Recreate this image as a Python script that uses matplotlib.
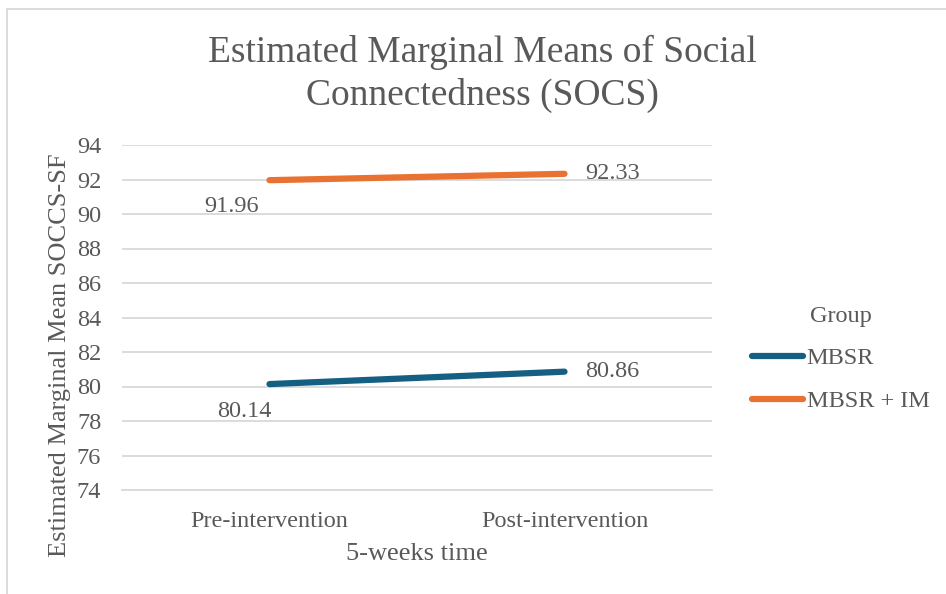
import matplotlib
matplotlib.use("Agg")
import matplotlib.pyplot as plt
from matplotlib.lines import Line2D

plt.rcParams['font.family'] = ['Liberation Serif', 'DejaVu Serif']

categories = ["Pre-intervention", "Post-intervention"]
groups = ["MBSR", "MBSR + IM"]
mbsr = [80.14, 80.86]
mbsr_im = [91.96, 92.33]
y_ticks = [74, 76, 78, 80, 82, 84, 86, 88, 90, 92, 94]

colors = {"MBSR": "#156082", "MBSR + IM": "#E97132"}
text_color = "#595959"
grid_color = "#D9D9D9"
fs = 17.5

W, H = 946, 594
fig = plt.figure(figsize=(W / 100, H / 100), dpi=100)

# plot area in pixel terms
left, right, top, bottom = 122, 712, 145, 490
ax = fig.add_axes([left / W, 1 - bottom / H, (right - left) / W, (bottom - top) / H])

x = [0, 1]
ax.set_xlim(-0.5, 1.5)
ax.set_ylim(74, 94)
for name, vals in zip(groups, [mbsr, mbsr_im]):
    ax.plot(x, vals, color=colors[name], lw=4.5, solid_capstyle="round", zorder=3)

ax.set_yticks(y_ticks)
ax.set_xticks(x)
ax.set_xticklabels(categories)
ax.yaxis.grid(True, color=grid_color, lw=1.3)
ax.set_axisbelow(True)
for s in ax.spines.values():
    s.set_visible(False)
ax.spines["bottom"].set_visible(True)
ax.spines["bottom"].set_color(grid_color)
ax.spines["bottom"].set_linewidth(1.3)
ax.tick_params(axis="both", length=0, labelsize=fs, colors=text_color)
ax.tick_params(axis="y", pad=15)
ax.tick_params(axis="x", pad=15)

# data labels
for vals, off0 in [(mbsr, (-18, -20)), (mbsr_im, (-27, -19))]:
    ax.annotate(f"{vals[0]:.2f}", (0, vals[0]), xytext=off0, textcoords="offset points",
                ha="center", va="center", fontsize=fs, color=text_color)
    ax.annotate(f"{vals[1]:.2f}", (1, vals[1]), xytext=(15, 0), textcoords="offset points",
                ha="left", va="center", fontsize=fs, color=text_color)

fig.text(482 / W, 1 - 74 / H, "Estimated Marginal Means of Social\nConnectedness (SOCS)",
         ha="center", va="center", fontsize=27, color=text_color, linespacing=1.32)
fig.text(60 / W, 1 - 355 / H, "Estimated Marginal Mean SOCCS-SF", rotation=90,
         ha="center", va="center", fontsize=19, color=text_color)
fig.text(417 / W, 1 - 554 / H, "5-weeks time", ha="center", va="center",
         fontsize=19, color=text_color)

# legend
handles = [Line2D([0], [0], color=colors[g], lw=4.5, solid_capstyle="round") for g in groups]
leg = fig.legend(handles, groups, title="Group", loc="center left",
                 bbox_to_anchor=(730 / W, 1 - 359 / H), frameon=False,
                 fontsize=fs, title_fontsize=fs, handlelength=2.1,
                 handletextpad=0.15, labelspacing=0.85, labelcolor=text_color)
leg.get_title().set_color(text_color)

# chart border
fig.add_artist(Line2D([7 / W, 7 / W], [0, 1 - 9 / H], color=grid_color, lw=1.3))
fig.add_artist(Line2D([7 / W, 1], [1 - 9 / H, 1 - 9 / H], color=grid_color, lw=1.3))

fig.savefig("out.png", dpi=100, facecolor="white")
